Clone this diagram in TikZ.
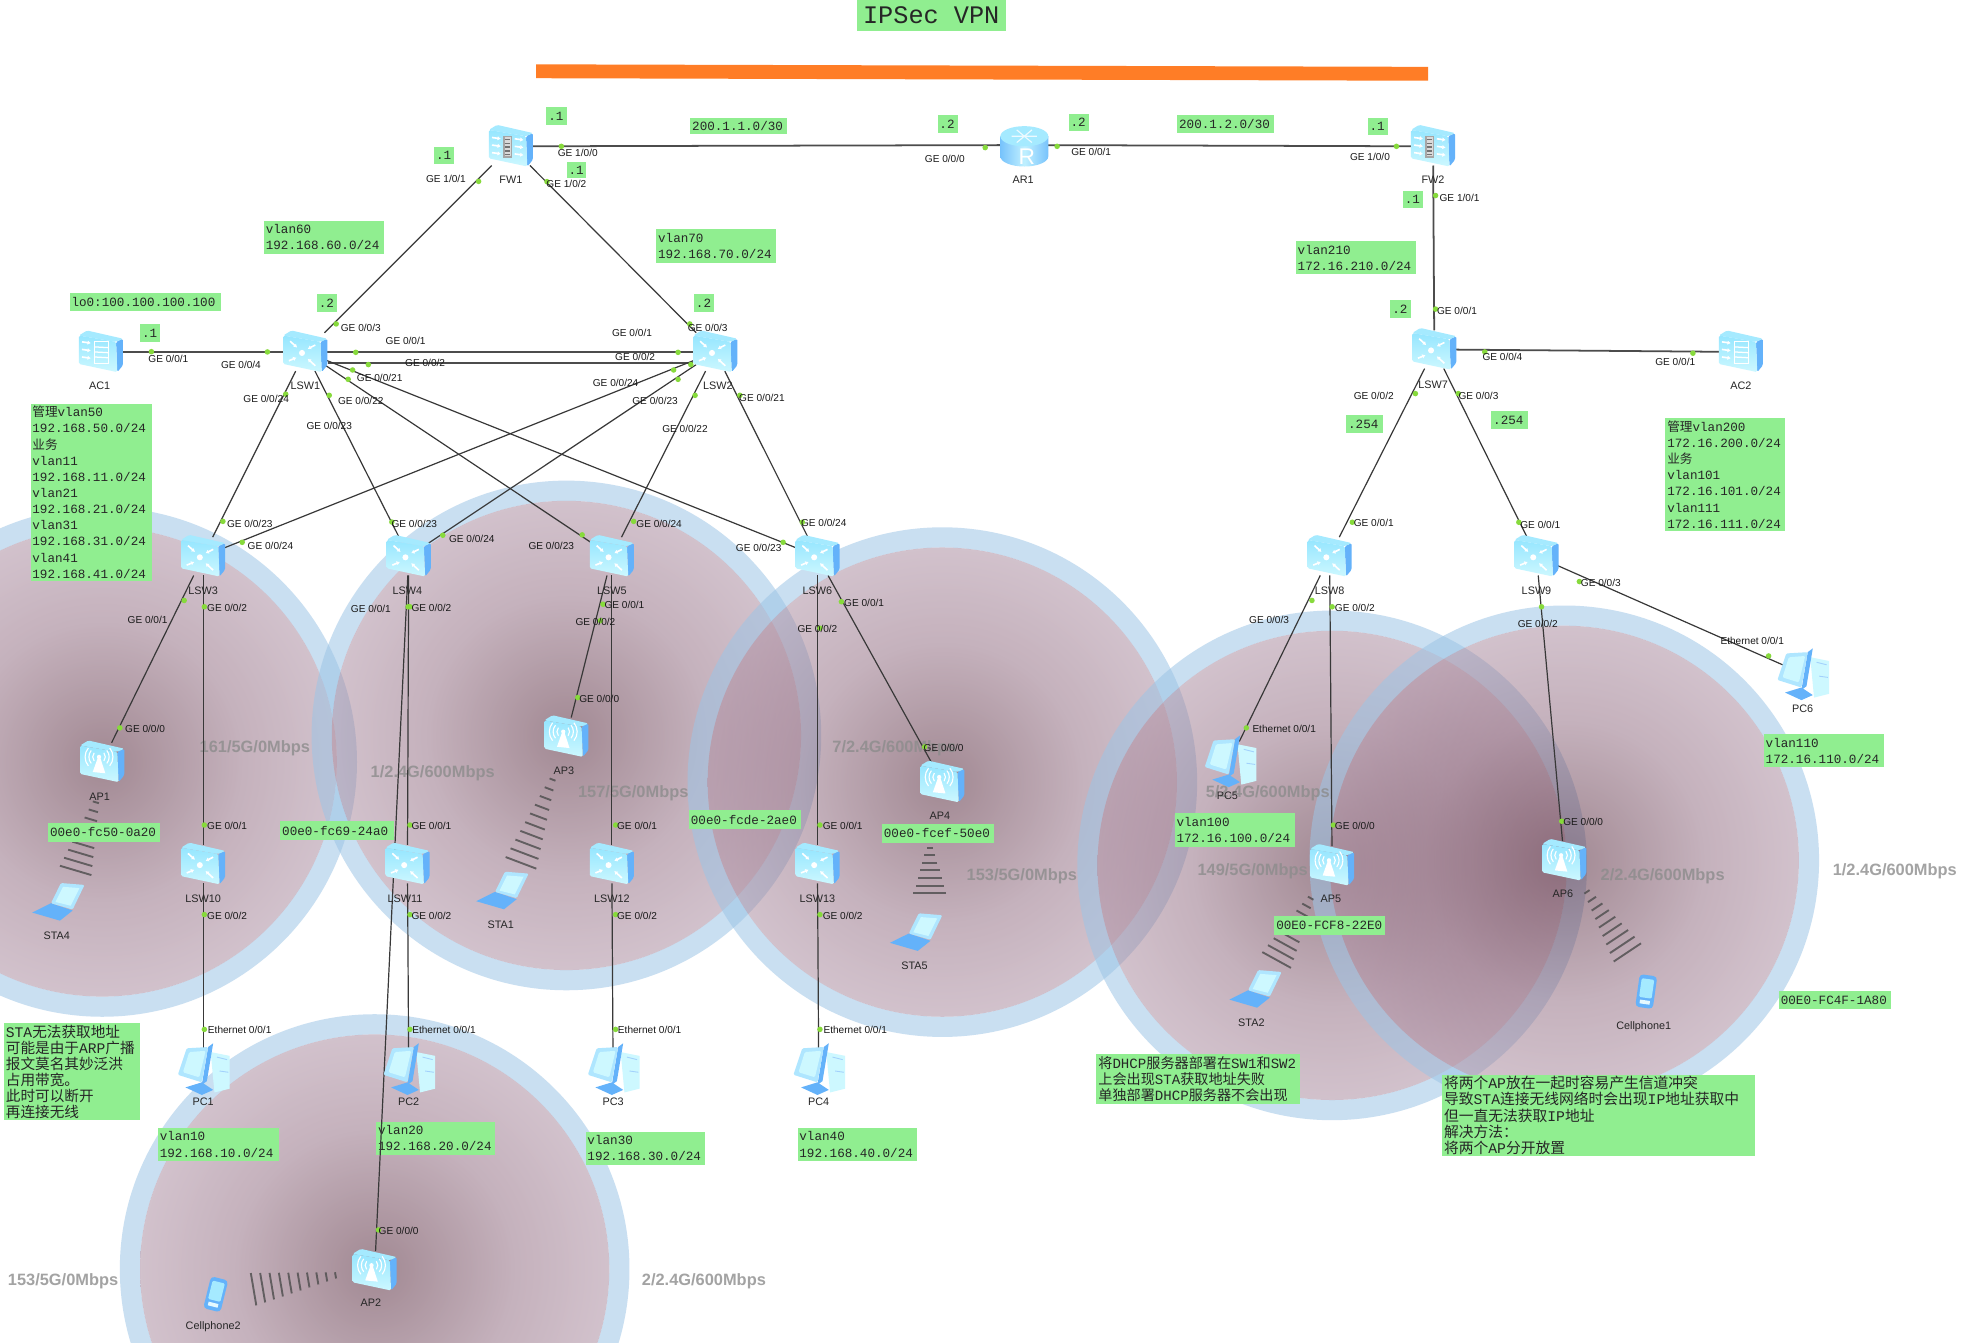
\documentclass[tikz,border=0pt]{standalone}
\usepackage{fontspec}
\setmainfont{Liberation Sans}
\setmonofont{Liberation Mono}
\newfontfamily\cjkf{Noto Sans CJK SC}
\newcommand\zh[1]{{\cjkf #1}}
\usetikzlibrary{arrows.meta,calc}
\definecolor{gboxc}{RGB}{144,238,144}
\definecolor{ringc}{RGB}{157,197,230}
\definecolor{zonea}{RGB}{85,40,58}
\definecolor{zoneb}{RGB}{150,115,135}
\definecolor{zonec}{RGB}{200,176,194}
\definecolor{sidec}{RGB}{100,178,250}
\definecolor{topc}{RGB}{165,234,255}
\definecolor{facea}{RGB}{205,248,255}
\definecolor{faceb}{RGB}{150,230,255}
\definecolor{framec}{RGB}{175,230,255}
\definecolor{portc}{RGB}{135,218,60}
\pgfdeclareradialshading{zoneshade}{\pgfpointorigin}{color(0bp)=(zonea); color(15bp)=(zoneb); color(36bp)=(zonec); color(50bp)=(zonec)}
\tikzset{
 gboxs/.style={fill=gboxc,anchor=north west,inner xsep=1.5pt,inner ysep=0pt,align=left,font=\ttfamily\fontsize{10}{12.8}\selectfont,text=black!85},
 notes/.style={gboxs,font=\ttfamily\fontsize{11.2}{12.8}\selectfont},
 devn/.style={rectangle,inner sep=0pt,minimum size=30pt},
 devlab/.style={font=\fontsize{8.6}{10}\selectfont,text=black!85,inner sep=0pt,yshift=-.7pt},
 portlab/.style={font=\fontsize{8}{10}\selectfont,text=black!90,inner sep=0pt,yshift=-.7pt},
 portdot/.style={fill=portc},
 zonelab/.style={font=\bfseries\fontsize{13}{15}\selectfont,text=black!45,inner sep=0pt,opacity=.8,yshift=-2pt},
 link/.style={draw=black!78,line width=.95pt},
 tlink/.style={draw=black!70,line width=1.4pt},
 wifis/.style={draw=black!70,line width=1.5pt,opacity=.8},
 ico/.style={white,line width=1.3pt,-{Latex[length=2.6pt,width=3.6pt]}},
 pics/cubebase/.style={code={
  \fill[sidec,rounded corners=1.2pt] (12,-8)--(17.5,-10.5)--(17.5,10.5)--(13,16)--cycle;
  \fill[topc,rounded corners=1.2pt] (-17.5,-13)--(-11,-17)--(17.5,-10.5)--(12,-8)--cycle;
  \shade[bottom color=facea,top color=faceb,rounded corners=1.2pt] (-17.5,-13)--(12,-8)--(13,16)--(-17.5,9.5)--cycle;
 }},
 pics/swi/.style={code={
  \pic{cubebase};
  \fill[white] (-2.6,.8) circle (2.4);
  \draw[ico] (-12,-8.5)--(-6.5,-3.5);
  \draw[ico] (8,-5.5)--(2,-2.5);
  \draw[ico] (-13,7)--(-7,4.5);
  \draw[ico] (8,11)--(2,5.5);
 }},
 pics/fwl/.style={code={
  \pic{cubebase};
  \fill[black!35] (-6,-8) rectangle (1,9);
  \fill[white!85!black] (-5,-7) rectangle (0,8);
  \foreach \yy in {-6,-3,0,3,6}{\fill[black!55] (-4.5,\yy) rectangle (-.5,\yy+1.2);}
  \foreach \yy in {-6,0,6}{\draw[ico] (-15,\yy-1)--(-8,\yy);\draw[ico] (3,\yy)--(10,\yy+1);}
 }},
 pics/acc/.style={code={
  \pic{cubebase};
  \foreach \yy in {-7,-1,5}{\draw[ico] (-15,\yy-1)--(-8,\yy);}
  \draw[white,line width=1pt] (-5,-8) rectangle (6,9);
  \foreach \yy in {-4,0,4}{\draw[white,line width=1pt] (-5,\yy)--(6,\yy+.6);}
 }},
 pics/apt/.style={code={
  \pic{cubebase};
  \fill[white] (-3.6,-3)--(-1.4,-3)--(2.5,9)--(-7.5,8)--cycle;
  \fill[white] (-2.5,-4) circle (1.7);
  \foreach \rr in {5,8,11}{
   \draw[white,line width=.9pt] ({-2.5+\rr*.77},{-4-\rr*.64}) arc[start angle=-40,end angle=40,radius=\rr];
   \draw[white,line width=.9pt] ({-2.5-\rr*.77},{-4-\rr*.64}) arc[start angle=220,end angle=140,radius=\rr];
  }
 }},
 pics/rtr/.style={code={
  \shade[left color=sidec!70!topc,right color=sidec!70!topc,middle color=topc!70!white] (-19,-7)--(19,-7)--(19,9) arc[start angle=0,end angle=180,x radius=19,y radius=8]--cycle;
  \fill[topc] (0,-7) ellipse[x radius=19,y radius=8];
  \draw[white,line width=.9pt,opacity=.8] (-10,-7)--(10,-7) (-6,-12)--(6,-2) (-6,-2)--(6,-12);
  \node[white,font=\fontsize{18}{18}\selectfont,inner sep=0pt] at (2,9) {R};
 }},
 pics/pcm/.style={code={
  \fill[facea] (6,-13)--(21,-10)--(21,16)--(9,19)--cycle;
  \draw[sidec!60,line width=.7pt] (11,-9)--(19,-7) (13,2)--(20,3);
  \fill[sidec] (4,-17)--(8,-20)--(3,10)--(-1,13)--cycle;
  \fill[framec,rounded corners=1pt] (-13,-16)--(4,-17)--(-1,11)--(-20,5)--cycle;
  \fill[facea,rounded corners=1pt] (-11,-13)--(2,-14)--(-3,7)--(-16,3)--cycle;
  \fill[sidec] (-14,15)--(-1,11)--(8,17)--(-1,21)--cycle;
 }},
 pics/lap/.style={code={
  \fill[sidec] (-21.5,7.4)--(-6.6,0)--(10.6,5.8)--(.5,13.8)--cycle;
  \fill[framec,rounded corners=1pt] (1.3,-16)--(20,-14.5)--(10.6,5)--(-6.6,0)--cycle;
  \fill[facea] (3,-13)--(16,-12)--(9,2)--(-3,-1)--cycle;
 }},
 pics/phn/.style={code={
  \fill[sidec,rounded corners=3pt] (-7,-13) rectangle (7,13);
  \fill[topc,rounded corners=1pt] (-5,-10) rectangle (5,5);
  \fill[white!70!topc] (-4,7) rectangle (4,10);
 }}
}
\newcount\portcnt
\newcommand\port[5]{\global\advance\portcnt by 1
 \fill[portdot] (#1,#2) circle (2.2);
 \node[portlab] (port\the\portcnt) at (#3,#4) {#5};}
\newcommand\gbox[6]{%
 \pgfmathsetlengthmacro\gw{#4-#2}\pgfmathsetlengthmacro\gh{#5-#3}\pgfmathsetlengthmacro\gt{#4-#2-3}%
 \node[gboxs,minimum width=\gw,minimum height=\gh,text width=\gt] (#1) at (#2,#3) {#6};}
\newcommand\nbox[6]{%
 \pgfmathsetlengthmacro\gw{#4-#2}\pgfmathsetlengthmacro\gh{#5-#3}\pgfmathsetlengthmacro\gt{#4-#2-3}%
 \node[notes,minimum width=\gw,minimum height=\gh,text width=\gt] (#1) at (#2,#3) {#6};}
\newcommand\wifi[5]{%
 \foreach \wi in {0,...,#5}{%
  \pgfmathsetmacro\wt{\wi/#5}%
  \pgfmathsetmacro\wl{sqrt((#3-#1)*(#3-#1)+(#4-#2)*(#4-#2))}%
  \pgfmathsetmacro\wh{2.5+10.5*\wt}%
  \pgfmathsetmacro\wx{#1+(#3-#1)*\wt}%
  \pgfmathsetmacro\wy{#2+(#4-#2)*\wt}%
  \pgfmathsetmacro\wnx{-(#4-#2)/\wl*\wh}%
  \pgfmathsetmacro\wny{(#3-#1)/\wl*\wh}%
  \draw[wifis] ({\wx-(\wnx)},{\wy-(\wny)}) -- ({\wx+(\wnx)},{\wy+(\wny)});}}
\begin{document}
\begin{tikzpicture}[x=1pt,y=-1pt]
\useasboundingbox (0,0) rectangle (1568,1064);
\clip (0,0) rectangle (1568,1064);
\fill[white] (0,0) rectangle (1568,1064);
% coverage zones
\foreach \cx/\cy in {81/604,449/583,747/620,297/1006,1056/686,1240/682}{
 \fill[ringc,even odd rule,fill opacity=.55] (\cx,\cy) circle (202) (\cx,\cy) circle (186);
 \path[shading=zoneshade,fill opacity=.55,shade] (\cx,\cy) circle (186);
}
% zone labels
\foreach \zx/\zy/\zt [count=\zi] in {202/591/161\slash 5G\slash 0Mbps,343/611/1\slash 2.4G\slash 600Mbps,502/627/157\slash 5G\slash 0Mbps,709/591/7\slash 2.4G\slash 600Mbps,810/693/153\slash 5G\slash 0Mbps,1005/627/5\slash 2.4G\slash 600Mbps,993/689/149\slash 5G\slash 0Mbps,1318/693/2\slash 2.4G\slash 600Mbps,1502/689/1\slash 2.4G\slash 600Mbps,50/1014/153\slash 5G\slash 0Mbps,558/1014/2\slash 2.4G\slash 600Mbps}{
 \node[zonelab] (zone\zi) at (\zx,\zy) {\zt};
}
% wireless marks
\wifi{76}{636}{60}{690}{8}
\wifi{266}{1011}{201}{1022}{9}
\wifi{438}{618}{413}{684}{9}
\wifi{737}{672}{737}{708}{6}
\wifi{1039}{712}{1012}{761}{8}
\wifi{1258}{707}{1290}{755}{8}
% orange bar
\fill[orange!80!red!85!white] (425,51)--(1132,53)--(1132,64)--(425,62)--cycle;
% green boxes
\node[fill=gboxc,inner sep=0pt,minimum width=118pt,minimum height=24pt,anchor=north west,font=\ttfamily\fontsize{20}{22}\selectfont,text=black!85] (title) at (679,0) {IPSec VPN};
\gbox{n1}{547}{93}{624}{106}{200.1.1.0/30}
\gbox{n2}{433}{85}{449}{99}{.1}
\gbox{n3}{344}{116}{360}{130}{.1}
\gbox{n4}{449}{128}{464}{141}{.1}
\gbox{n5}{743}{91}{759}{105}{.2}
\gbox{n6}{847}{90}{863}{104}{.2}
\gbox{n7}{933}{91}{1010}{105}{200.1.2.0/30}
\gbox{n8}{1084}{93}{1100}{107}{.1}
\gbox{n9}{1112}{151}{1128}{165}{.1}
\gbox{n10}{209}{175}{304}{201}{vlan60\\192.168.60.0/24}
\gbox{n11}{520}{181}{615}{208}{vlan70\\192.168.70.0/24}
\gbox{n12}{1027}{191}{1122}{217}{vlan210\\172.16.210.0/24}
\gbox{n13}{55}{232}{175}{246}{lo0:100.100.100.100}
\gbox{n14}{111}{257}{127}{271}{.1}
\gbox{n15}{251}{233}{267}{247}{.2}
\gbox{n16}{550}{233}{566}{247}{.2}
\gbox{n17}{1102}{238}{1118}{252}{.2}
\gbox{n18}{1067}{329}{1096}{343}{.254}
\gbox{n19}{1182}{326}{1211}{340}{.254}
\gbox{n20}{24}{320}{120}{460}{\zh{管理}vlan50\\192.168.50.0/24\\\zh{业务}\\vlan11\\192.168.11.0/24\\vlan21\\192.168.21.0/24\\vlan31\\192.168.31.0/24\\vlan41\\192.168.41.0/24}
\gbox{n21}{1320}{331}{1415}{421}{\zh{管理}vlan200\\172.16.200.0/24\\\zh{业务}\\vlan101\\172.16.101.0/24\\vlan111\\172.16.111.0/24}
\gbox{m1}{38}{652}{127}{667}{00e0-fc50-0a20}
\gbox{m2}{222}{651}{312}{666}{00e0-fc69-24a0}
\gbox{m3}{546}{642}{635}{657}{00e0-fcde-2ae0}
\gbox{m4}{699}{653}{788}{668}{00e0-fcef-50e0}
\gbox{m5}{1010}{726}{1098}{741}{00E0-FCF8-22E0}
\gbox{m6}{1410}{785}{1499}{800}{00E0-FC4F-1A80}
\gbox{v1}{125}{894}{221}{920}{vlan10\\192.168.10.0/24}
\gbox{v2}{298}{889}{392}{915}{vlan20\\192.168.20.0/24}
\gbox{v3}{464}{897}{559}{923}{vlan30\\192.168.30.0/24}
\gbox{v4}{632}{894}{727}{920}{vlan40\\192.168.40.0/24}
\gbox{v5}{931}{644}{1026}{671}{vlan100\\172.16.100.0/24}
\gbox{v6}{1398}{582}{1493}{608}{vlan110\\172.16.110.0/24}
\nbox{t1}{3}{811}{111}{888}{\fontsize{11.6}{12.8}\selectfont STA\zh{无法获取地址}\\\zh{可能是由于}ARP\zh{广播}\\\zh{报文莫名其妙泛洪}\\\zh{占用带宽。}\\\zh{此时可以断开}\\\zh{再连接无线}}
\nbox{t2}{869}{835}{1030}{875}{\zh{将}DHCP\zh{服务器部署在}SW1\zh{和}SW2\\\zh{上会出现}STA\zh{获取地址失败}\\\zh{单独部署}DHCP\zh{服务器不会出现}}
\nbox{t3}{1143}{852}{1391}{916}{\fontsize{11.7}{12.8}\selectfont\zh{将两个}AP\zh{放在一起时容易产生信道冲突}\\\zh{导致}STA\zh{连接无线网络时会出现}IP\zh{地址获取中}\\\zh{但一直无法获取}IP\zh{地址}\\\zh{解决方法：}\\\zh{将两个}AP\zh{分开放置}}
% device nodes
\foreach \n/\x/\y in {FW1/405/116,AR1/812/115,FW2/1136/116,AC1/80/279,LSW1/242/279,LSW2/567/279,LSW3/161/441,LSW4/324/441,LSW5/485/441,LSW6/648/441,LSW7/1137/277,AC2/1380/279,LSW8/1054/441,LSW9/1218/441,AP1/81/604,AP2/297/1007,AP3/449/584,AP4/747/620,AP5/1056/686,AP6/1240/682,LSW10/161/685,LSW11/323/685,LSW12/485/685,LSW13/648/685,PC1/161/847,PC2/324/847,PC3/486/847,PC4/649/847,PC5/975/603,PC6/1429/534,STA4/47/716,STA1/399/707,STA5/727/740,STA2/996/785,Cellphone2/171/1026,Cellphone1/1305/786}{
 \node[devn] (\n) at (\x,\y) {};
}
\coordinate (L1b) at (260,288);
\coordinate (L2b) at (549,288);
% links
\foreach \a/\b in {FW1/AR1,AR1/FW2,AC1/LSW1,LSW1/LSW2,LSW7/AC2,FW2/LSW7}{\draw[tlink] (\a)--(\b);}
\draw[tlink] (L1b)--(L2b);
\foreach \a/\b in {FW1/LSW1,FW1/LSW2,LSW1/LSW3,LSW1/LSW4,LSW1/LSW5,LSW1/LSW6,LSW2/LSW3,LSW2/LSW4,LSW2/LSW5,LSW2/LSW6,LSW3/AP1,LSW3/LSW10,LSW10/PC1,LSW4/AP2,LSW4/LSW11,LSW11/PC2,LSW5/AP3,LSW5/LSW12,LSW12/PC3,LSW6/LSW13,LSW13/PC4,LSW6/AP4,LSW7/LSW8,LSW7/LSW9,LSW8/PC5,LSW8/AP5,LSW9/AP6,LSW9/PC6}{\draw[link] (\a)--(\b);}
% icons
\foreach \n in {LSW1,LSW2,LSW3,LSW4,LSW5,LSW6,LSW7,LSW8,LSW9,LSW10,LSW11,LSW12,LSW13}{\pic at (\n) {swi};}
\foreach \n in {FW1,FW2}{\pic at (\n) {fwl};}
\foreach \n in {AC1,AC2}{\pic at (\n) {acc};}
\foreach \n in {AP1,AP2,AP3,AP4,AP5,AP6}{\pic at (\n) {apt};}
\pic at (AR1) {rtr};
\foreach \n in {PC1,PC2,PC3,PC4,PC5,PC6}{\pic at (\n) {pcm};}
\foreach \n in {STA4,STA1,STA5,STA2}{\pic at (\n) {lap};}
\pic[rotate=-14] at (Cellphone2) {phn};
\pic[rotate=-8] at (Cellphone1) {phn};
% device labels
\foreach \n/\x/\y in {FW1/405/142,AR1/811/142,FW2/1136/142,AC1/79/305,LSW1/242/305,LSW2/569/305,LSW3/161/468,LSW4/323/468,LSW5/485/468,LSW6/648/468,LSW7/1136/304,AC2/1380/305,LSW8/1054/468,LSW9/1218/468,AP1/79/631,AP2/294/1032,AP3/447/610,AP4/745/646,AP5/1055/712,AP6/1239/708,LSW10/161/712,LSW11/321/712,LSW12/485/712,LSW13/648/712,PC1/161/873,PC2/324/873,PC3/486/873,PC4/649/873,PC5/973/630,PC6/1429/561,STA4/45/741,STA1/397/732,STA5/725/765,STA2/992/810,Cellphone2/169/1051,Cellphone1/1303/813}{
 \node[devlab] (\n-lab) at (\x,\y) {\n};
}
% ports
\port{445}{116}{458}{120.7}{GE 1/0/0}
\port{433.6}{144}{449}{145}{GE 1/0/2}
\port{379.4}{143.8}{353.5}{141}{GE 1/0/1}
\port{781}{117}{749}{125}{GE 0/0/0}
\port{838}{116}{865}{120}{GE 0/0/1}
\port{1107}{116}{1086}{124}{GE 1/0/0}
\port{1138}{155}{1157}{156}{GE 1/0/1}
\port{1138}{245}{1155}{246}{GE 0/0/1}
\port{1177}{279}{1191}{282}{GE 0/0/4}
\port{1122}{312}{1089}{313}{GE 0/0/2}
\port{1156}{312}{1172}{313}{GE 0/0/3}
\port{1342}{280}{1328}{286}{GE 0/0/1}
\port{120}{278.8}{133.5}{283.5}{GE 0/0/1}
\port{212}{279}{191}{288.5}{GE 0/0/4}
\port{266.5}{256.8}{286}{259}{GE 0/0/3}
\port{282}{279.3}{321.5}{269.3}{GE 0/0/1}
\port{292}{289}{337}{287.2}{GE 0/0/2}
\port{279.5}{293.3}{301}{299}{GE 0/0/21}
\port{276}{300.7}{286}{317}{GE 0/0/22}
\port{261}{313.4}{261}{337.2}{GE 0/0/23}
\port{226.5}{312.5}{211}{315.8}{GE 0/0/24}
\port{537.5}{279.3}{501}{263.5}{GE 0/0/1}
\port{547.6}{289}{503.5}{282.5}{GE 0/0/2}
\port{546.8}{256.8}{561}{259}{GE 0/0/3}
\port{534}{293.3}{488}{302.8}{GE 0/0/24}
\port{537.5}{300.7}{519.3}{316.8}{GE 0/0/23}
\port{551}{313.4}{543}{339.5}{GE 0/0/22}
\port{586.5}{313.4}{604}{314.4}{GE 0/0/21}
\port{176.7}{413.3}{198}{414.3}{GE 0/0/23}
\port{192}{429.9}{214.4}{432.3}{GE 0/0/24}
\port{310.6}{413.8}{328.4}{414.3}{GE 0/0/23}
\port{351}{424.3}{374}{426.2}{GE 0/0/24}
\port{461.5}{424}{437}{432.3}{GE 0/0/23}
\port{502.3}{413.3}{522.5}{414.3}{GE 0/0/24}
\port{620.8}{429.9}{601.4}{433.3}{GE 0/0/23}
\port{636}{414}{653}{414}{GE 0/0/24}
\port{146}{476}{117}{491}{GE 0/0/1}
\port{162}{481}{180}{481}{GE 0/0/2}
\port{95}{577}{115}{577}{GE 0/0/0}
\port{162}{654}{180}{654}{GE 0/0/1}
\port{162}{725}{180}{725}{GE 0/0/2}
\port{162}{816}{190}{816}{Ethernet 0/0/1}
\port{323.5}{481}{294}{482}{GE 0/0/1}
\port{325}{481}{342}{481}{GE 0/0/2}
\port{325}{654}{342}{654}{GE 0/0/1}
\port{325}{725}{342}{725}{GE 0/0/2}
\port{325}{816}{352}{816}{Ethernet 0/0/1}
\port{300}{975}{316}{975}{GE 0/0/0}
\port{478}{479}{495}{479}{GE 0/0/1}
\port{476}{492}{472}{492}{GE 0/0/2}
\port{458}{553}{475}{553}{GE 0/0/0}
\port{488}{654}{505}{654}{GE 0/0/1}
\port{488}{725}{505}{725}{GE 0/0/2}
\port{488}{816}{515}{816}{Ethernet 0/0/1}
\port{667}{477}{685}{477}{GE 0/0/1}
\port{650}{498}{648}{498}{GE 0/0/2}
\port{733}{592}{748}{592}{GE 0/0/0}
\port{650}{654}{668}{654}{GE 0/0/1}
\port{650}{725}{668}{725}{GE 0/0/2}
\port{650}{816}{678}{816}{Ethernet 0/0/1}
\port{1072}{414}{1089}{414}{GE 0/0/1}
\port{1040}{476}{1006}{491}{GE 0/0/3}
\port{1056}{481}{1074}{481}{GE 0/0/2}
\port{988}{577}{1018}{577}{Ethernet 0/0/1}
\port{1057}{654}{1074}{654}{GE 0/0/0}
\port{1204}{414}{1221}{415}{GE 0/0/1}
\port{1252}{461}{1269}{461}{GE 0/0/3}
\port{1222}{481}{1219}{494}{GE 0/0/2}
\port{1238}{651}{1255}{651}{GE 0/0/0}
\port{1402}{520}{1389}{507}{Ethernet 0/0/1}
\end{tikzpicture}
\end{document}
